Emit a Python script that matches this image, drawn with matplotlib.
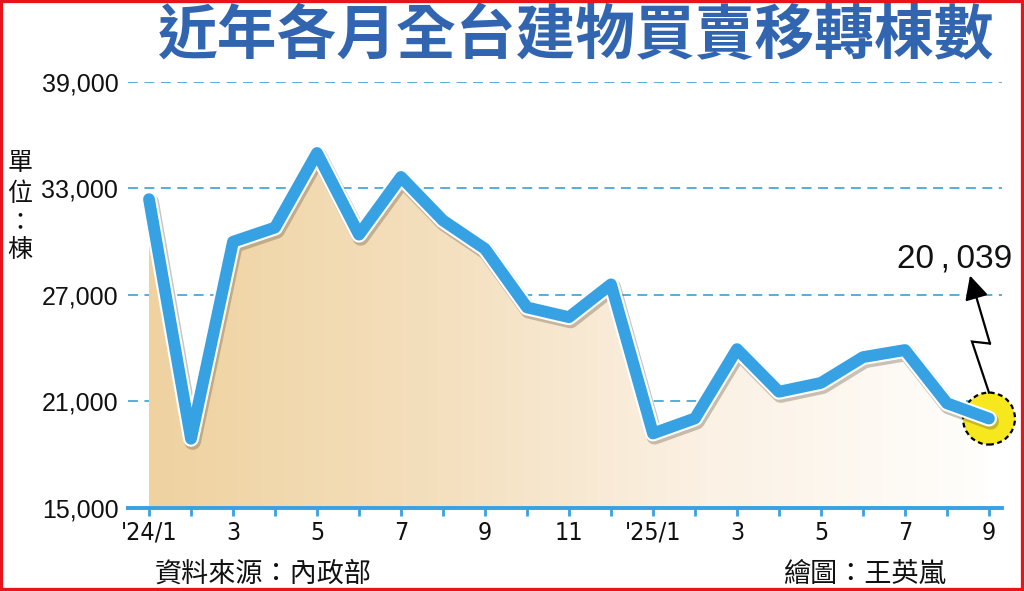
import numpy as np
import matplotlib
matplotlib.use('Agg')
import matplotlib.pyplot as plt
from matplotlib import patheffects as pe
from matplotlib.patches import Polygon, Rectangle
from matplotlib.colors import LinearSegmentedColormap
from matplotlib.transforms import IdentityTransform

# ---------------- data ----------------
months = ["'24/1", "2", "3", "4", "5", "6", "7", "8", "9", "10", "11", "12",
          "'25/1", "2", "3", "4", "5", "6", "7", "8", "9"]
values = [32400, 18900, 30000, 30800, 35000, 30400, 33650, 31200, 29600, 26300,
          25750, 27600, 19200, 20050, 23950, 21550, 22050, 23500, 23900, 20900, 20039]
yticks = [15000, 21000, 27000, 33000, 39000]
title = "近年各月全台建物買賣移轉棟數"
unit_chars = ["單", "位", "：", "棟"]
source = "資料來源：內政部"
credit = "繪圖：王英嵐"

CJK = ['Noto Sans CJK TC', 'DejaVu Sans']
NARROW = ['DejaVu Sans']
plt.rcParams['font.family'] = ['Liberation Sans', 'Noto Sans CJK TC', 'DejaVu Sans']

W, H = 1024, 591
fig = plt.figure(figsize=(W / 100, H / 100), dpi=100)
fig.patch.set_facecolor('white')

ax = fig.add_axes([128 / W, (H - 508) / H, 874 / W, 426 / H])
ax.set_facecolor('none')
x = np.arange(len(values))
ymin, ymax = yticks[0], yticks[-1]

blue = '#36a2e3'
grid_blue = '#4aa8d6'

# gridlines
for yv in yticks[1:]:
    ax.axhline(yv, color=grid_blue, lw=1.3, dashes=(5.5, 3.6), zorder=1)

# gradient fill under the line
verts = [(x[0], ymin)] + list(zip(x, values)) + [(x[-1], ymin)]
poly = Polygon(verts, closed=True, facecolor='none', edgecolor='none')
ax.add_patch(poly)
grad = np.linspace(0, 1, 256).reshape(1, -1)
cmap = LinearSegmentedColormap.from_list('g', ['#efd2a0', '#f4dfbd', '#fbf1e4', '#fffefc'])
im = ax.imshow(grad, extent=[x[0], x[-1], ymin, ymax], aspect='auto', cmap=cmap,
               zorder=2, origin='lower', interpolation='bilinear')
im.set_clip_path(poly)

# end marker
ax.scatter([x[-1]], [values[-1]], s=1400, facecolor='#f6e81c', edgecolor='black',
           linewidths=1.6, linestyle=(0, (2.2, 1.6)), zorder=3, clip_on=False)

# main line
ax.plot(x, values, color=blue, lw=8.5, solid_joinstyle='round', solid_capstyle='round',
        zorder=4, clip_on=False,
        path_effects=[pe.SimpleLineShadow(offset=(1.2, -2.0), shadow_color='#6b5a45',
                                          alpha=0.35, linewidth=12),
                      pe.Stroke(linewidth=11.5, foreground='white'),
                      pe.Normal()])

ax.set_xlim(-0.5, 20.31)
ax.set_ylim(ymin, ymax)

# axes styling
for s in ['top', 'right', 'left']:
    ax.spines[s].set_visible(False)
ax.spines['bottom'].set_color(blue)
ax.spines['bottom'].set_linewidth(2.8)
ax.spines['bottom'].set_zorder(6)

ax.set_xticks(x)
ax.set_xticklabels([m if (i % 2 == 0) else '' for i, m in enumerate(months)],
                   fontsize=18, family=NARROW, fontstretch='condensed', color='#111111')
ax.tick_params(axis='x', direction='out', length=6, width=2, color=blue, pad=3)
ax.set_yticks(yticks)
ax.set_yticklabels([f"{v:,}" for v in yticks], fontsize=18, color='#111111')
ax.tick_params(axis='y', length=0, pad=7)

fig.canvas.draw()

# annotation: zigzag arrow and value label
px, py = ax.transData.transform((x[-1], values[-1]))
zig = [(0, 26), (-17, 77), (1, 75)]
ax.plot([px + dx for dx, dy in zig], [py + dy for dx, dy in zig], color='black', lw=1.6,
        transform=IdentityTransform(), zorder=7, clip_on=False, solid_joinstyle='miter')
ax.annotate('', xy=(px - 19, py + 143), xycoords='figure pixels',
            xytext=(px + 1, py + 75), textcoords='figure pixels',
            arrowprops=dict(arrowstyle='-|>,head_length=0.9,head_width=0.45', color='black',
                            lw=1.6, shrinkA=0, shrinkB=0, mutation_scale=16), zorder=7)
ax.annotate(f"{values[-1]:,}".replace(',', '\u2009,\u2009'),
            xy=(x[-1], values[-1]), xytext=(-34, 160),
            textcoords='offset pixels', ha='center', va='center', fontsize=24,
            family=['Liberation Sans', 'DejaVu Sans'], color='#111111', zorder=8)

# title
fig.text(576 / W, 1 - 37 / H, title, ha='center', va='center', fontsize=43,
         family=CJK, fontweight='bold', color='#3165b0')

# unit label
for ch, yc in zip(unit_chars, [163, 194, 222, 250]):
    fig.text(20 / W, 1 - yc / H, ch, ha='center', va='center', fontsize=18, family=CJK,
             color='#111111')

# footer
fig.text(155 / W, 1 - 574 / H, source, ha='left', va='center', fontsize=19.5, family=CJK,
         color='#111111')
fig.text(783 / W, 1 - 574 / H, credit, ha='left', va='center', fontsize=19.5, family=CJK,
         color='#111111')

# red border
fig.patches.append(Rectangle((0, 0), 1, 1, transform=fig.transFigure, fill=False,
                             edgecolor='#e8141c', lw=4.5, zorder=10))

fig.savefig('out.png', dpi=100, facecolor='white')
